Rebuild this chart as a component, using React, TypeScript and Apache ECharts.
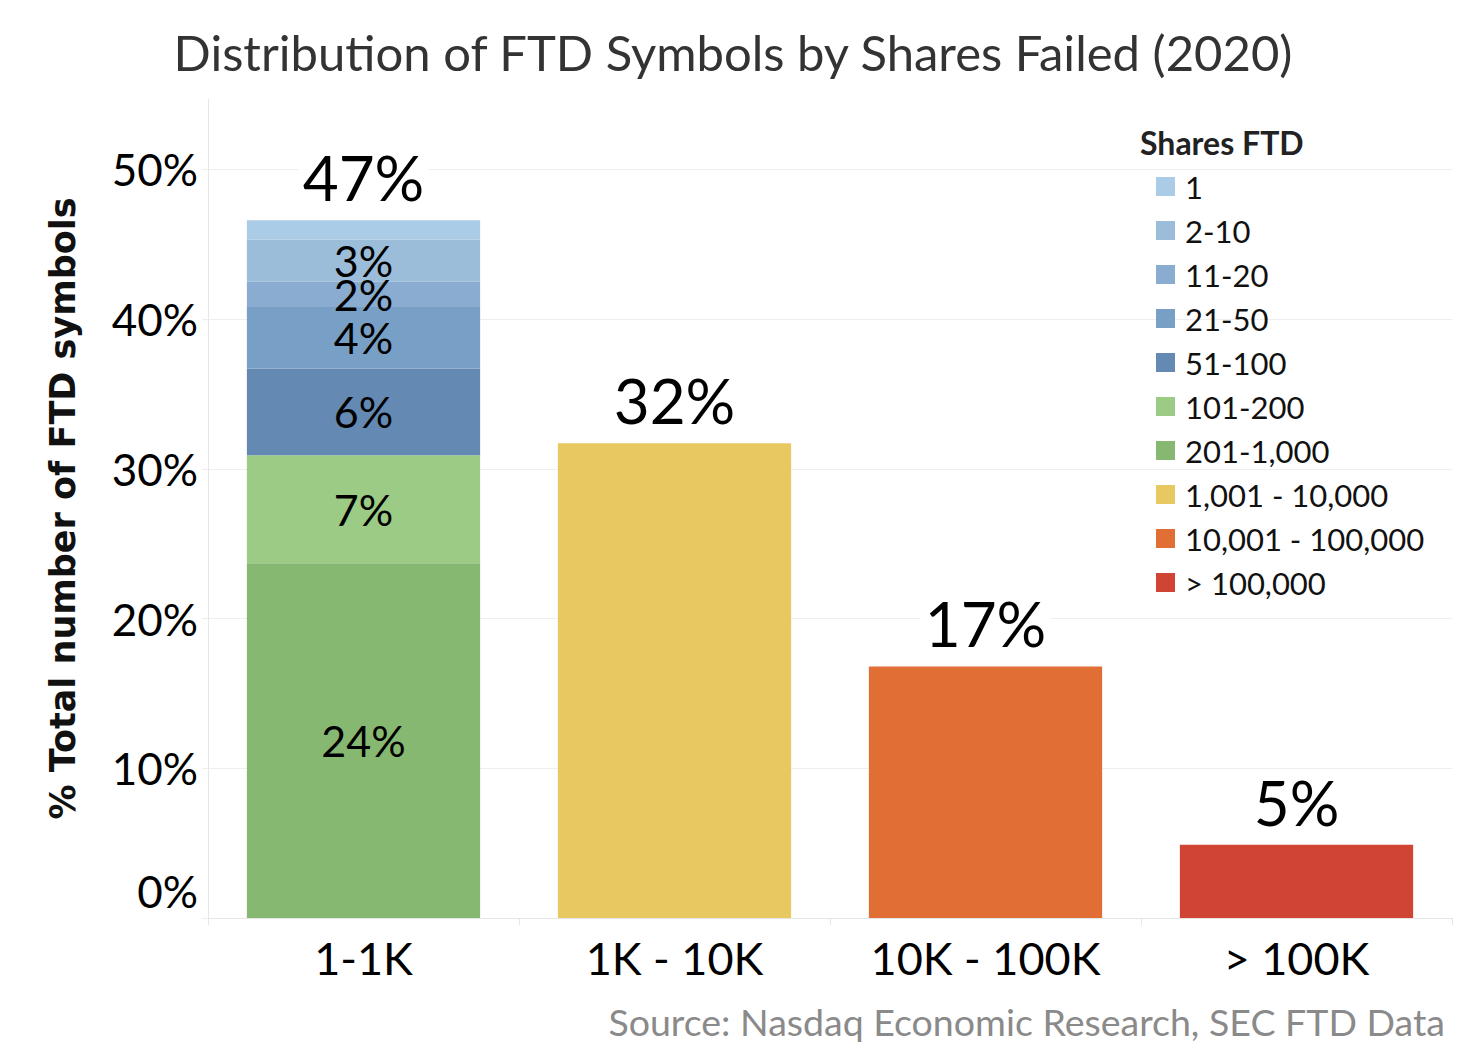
import React, { useEffect, useRef } from "react";
import * as echarts from "echarts";

const categories = ["1-1K", "1K - 10K", "10K - 100K", "> 100K"];
const shareBuckets = [
  "1",
  "2-10",
  "11-20",
  "21-50",
  "51-100",
  "101-200",
  "201-1,000",
  "1,001 - 10,000",
  "10,001 - 100,000",
  "> 100,000",
];
const bucketCategory = [0, 0, 0, 0, 0, 0, 0, 1, 2, 3];
const bucketValues = [1.3, 2.8, 1.7, 4.1, 5.8, 7.2, 23.7, 31.7, 16.8, 4.9];
const segmentLabels = ["", "3%", "2%", "4%", "6%", "7%", "24%", "", "", ""];
const totalLabels = ["47%", "32%", "17%", "5%"];
const bucketColors = [
  "#abcce6",
  "#9bbdda",
  "#89acd0",
  "#789fc6",
  "#6489b3",
  "#9ccb85",
  "#86b872",
  "#e7c861",
  "#e06e35",
  "#cf4433",
];
const yTickValues = [0, 10, 20, 30, 40, 50];

const FONT = "Lato";

export default function App() {
  const ref = useRef<HTMLDivElement>(null);

  useEffect(() => {
    document.body.style.margin = "0";
    if (!ref.current) return;
    const chart = echarts.init(ref.current, undefined, { renderer: "svg" });

    const topIndexOfCategory = categories.map((_, c) =>
      bucketCategory.findIndex((bc) => bc === c)
    );

    const order = shareBuckets.map((_, i) => i).reverse();
    const series = order.map((i) => {
      const isTop = topIndexOfCategory[bucketCategory[i]] === i;
      let label: any = { show: false };
      if (isTop) {
        label = {
          show: true,
          position: "top",
          distance: 12,
          formatter: totalLabels[bucketCategory[i]],
          fontSize: 62,
          fontFamily: FONT,
          color: "#000",
          backgroundColor: "#fff",
          padding: [0, 4, 0, 4],
        };
      } else if (segmentLabels[i]) {
        label = {
          show: true,
          position: "inside",
          formatter: segmentLabels[i],
          fontSize: 43,
          fontFamily: FONT,
          color: "#000",
        };
      }
      return {
        name: shareBuckets[i],
        type: "bar",
        stack: "total",
        barWidth: "75%",
        itemStyle: { color: bucketColors[i] },
        data: categories.map((_, c) =>
          c === bucketCategory[i] ? { value: bucketValues[i], label } : "-"
        ),
      };
    });

    chart.setOption({
      animation: false,
      backgroundColor: "#fff",
      title: {
        text: "Distribution of FTD Symbols by Shares Failed (2020)",
        left: "center",
        top: 22,
        textStyle: {
          fontSize: 49,
          fontWeight: "normal",
          fontFamily: FONT,
          color: "#333",
        },
      },
      legend: {
        data: shareBuckets,
        orient: "vertical",
        left: 1151,
        top: 166,
        icon: "rect",
        itemWidth: 19,
        itemHeight: 19,
        itemGap: 13,
        selectedMode: false,
        textStyle: {
          fontSize: 31,
          lineHeight: 31,
          fontFamily: FONT,
          color: "#111",
          padding: [0, 0, 0, 5],
        },
      },
      grid: { left: 208, right: 14, top: 99, bottom: 142, containLabel: false },
      xAxis: {
        type: "category",
        data: categories,
        axisLine: { show: true, lineStyle: { color: "#e6e6e6", width: 1 } },
        axisTick: { show: true, length: 7, lineStyle: { color: "#e6e6e6" } },
        axisLabel: {
          fontSize: 45,
          fontFamily: FONT,
          color: "#000",
          margin: 17,
        },
      },
      yAxis: {
        type: "value",
        min: 0,
        max: 54.7,
        interval: 10,
        name: "% Total number of FTD symbols",
        nameLocation: "middle",
        nameRotate: 90,
        nameGap: 128,
        nameTextStyle: {
          fontSize: 35,
          fontWeight: "bold",
          fontFamily: "DejaVu Sans",
          color: "#111",
        },
        axisLine: { show: true, lineStyle: { color: "#e6e6e6", width: 1 } },
        axisTick: { show: true, length: 6, lineStyle: { color: "#eeeeee" } },
        splitLine: {
          show: true,
          showMaxLine: false,
          lineStyle: { color: "#efefef", width: 1 },
        },
        axisLabel: {
          fontSize: 44,
          fontFamily: FONT,
          color: "#000",
          margin: 10,
          showMaxLabel: false,
          formatter: (v: number) =>
            v === 0 ? "{zero|0%}" : yTickValues.includes(v) ? `${v}%` : "",
          rich: {
            zero: {
              fontSize: 44,
              fontFamily: FONT,
              color: "#000",
              padding: [0, 0, 54, 0],
            },
          },
        },
      },
      graphic: [
        {
          type: "text",
          left: 1140,
          top: 126,
          style: {
            text: "Shares FTD",
            fontSize: 32,
            fontWeight: "bold",
            fontFamily: FONT,
            fill: "#222",
          },
        },
        {
          type: "text",
          right: 21,
          top: 1002,
          style: {
            text: "Source: Nasdaq Economic Research, SEC FTD Data",
            fontSize: 37.5,
            fontFamily: FONT,
            fill: "#8a8a8a",
          },
        },
      ],
      series,
    });

    return () => chart.dispose();
  }, []);

  return <div ref={ref} style={{ width: 1466, height: 1060 }} />;
}
